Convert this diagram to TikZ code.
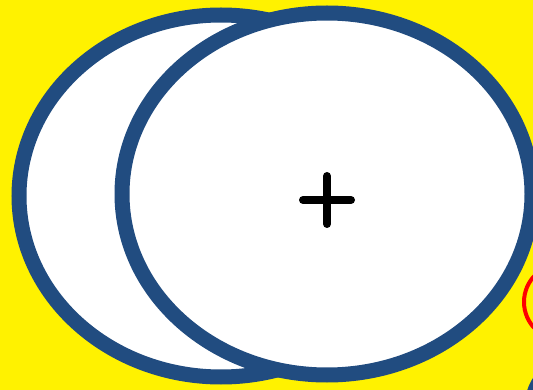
\documentclass[tikz,border=0pt]{standalone}
\usepackage{tikz}

\definecolor{ringblue}{RGB}{33,76,128}

\begin{document}
\begin{tikzpicture}[
    x=1pt, y=-1pt,
    ring/.style={draw=ringblue, line width=15pt, fill=white},
    marker/.style={draw=red, line width=4pt},
    plusbar/.style={draw=black, line width=8pt, line cap=round}
]

% --- Page and background ---
\useasboundingbox (0,0) rectangle (533,390);
\clip (0,0) rectangle (533,390);
\fill[yellow] (0,0) rectangle (533,390);

% --- Back ellipse ---
\draw[ring] (221,196) ellipse [x radius=202, y radius=181];

% --- Front ellipse ---
\draw[ring] (327,194) ellipse [x radius=205, y radius=181];

% --- Plus sign ---
\draw[plusbar] (303,200) -- (351,200);
\draw[plusbar] (327,176) -- (327,224);

% --- Red circle at right edge ---
\draw[marker] (562,302) circle [radius=38];

% --- Dark shape in the corner ---
\fill[ringblue] (575,405) circle [radius=50];

\end{tikzpicture}
\end{document}
